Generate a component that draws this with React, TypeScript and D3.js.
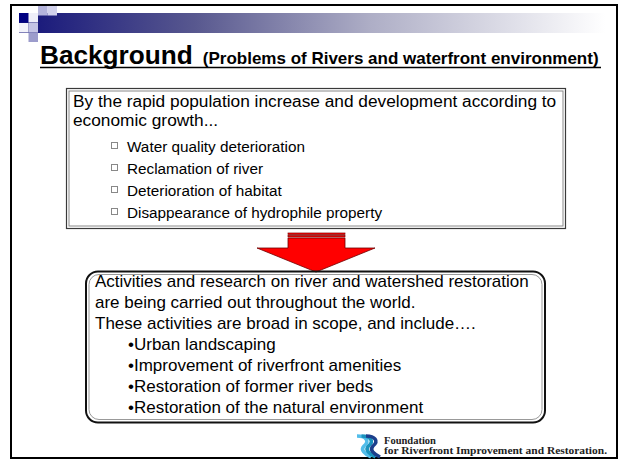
import React, { useEffect, useRef } from 'react';
import * as d3 from 'd3';

// slide text
const titleMain = 'Background';
const titleSub = '(Problems of Rivers and waterfront environment)';
const introLines = [
    'By the rapid population increase and development according to',
    'economic growth...',
];
const problemItems = [
    'Water quality deterioration',
    'Reclamation of river',
    'Deterioration of habitat',
    'Disappearance of hydrophile property',
];
const activityLines = [
    'Activities and research on river and watershed restoration',
    'are being carried out throughout the world.',
    'These activities are broad in scope, and include….',
];
const activityItems = [
    'Urban landscaping',
    'Improvement of riverfront amenities',
    'Restoration of former river beds',
    'Restoration of the natural environment',
];
const logoLines = ['Foundation', 'for Riverfront Improvement and Restoration.'];

const W = 621;
const H = 461;
const FONT = '"Liberation Sans", Arial, sans-serif';

const App = () => {
    const ref = useRef(null);

    useEffect(() => {
        const svg = d3.select(ref.current);
        svg.selectAll('*').remove();

        svg.append('rect').attr('width', W).attr('height', H).attr('fill', '#fff');

        // header gradient bar
        const grad = svg.append('defs').append('linearGradient')
            .attr('id', 'bar').attr('x1', 0).attr('x2', 1).attr('y1', 0).attr('y2', 0);
        [[0, '#14147a'], [0.3, '#58588f'], [0.6, '#aeaec6'], [1, '#ffffff']]
            .forEach(([o, c]) => grad.append('stop').attr('offset', o).attr('stop-color', c));
        svg.append('rect')
            .attr('x', 19).attr('y', 13).attr('width', 586).attr('height', 20)
            .attr('fill', 'url(#bar)');

        // little squares on the left of the bar
        const squares = [
            [19, 13, '#000080'], [28.5, 13, '#eeeef8'], [38, 6, '#b4b4dc'], [47.5, 6, '#d2d2ec'],
            [19, 23, '#f2f2fa'], [28.5, 23, '#c4c4e4'], [28.5, 32.5, '#9c9ccc'],
        ];
        svg.selectAll('.sq').data(squares).enter().append('rect')
            .attr('x', d => d[0]).attr('y', d => d[1])
            .attr('width', 9.5).attr('height', 9.5)
            .attr('fill', d => d[2]);

        // slide frame
        svg.append('rect')
            .attr('x', 11).attr('y', 5).attr('width', 606).attr('height', 453)
            .attr('fill', 'none').attr('stroke', '#000').attr('stroke-width', 2);

        // title
        const title = svg.append('text')
            .attr('x', 40).attr('y', 64)
            .attr('font-family', FONT).attr('font-weight', 'bold').attr('fill', '#000');
        title.append('tspan').attr('font-size', 26.2).text(titleMain);
        title.append('tspan').attr('font-size', 17).attr('dx', 10).text(titleSub);
        svg.append('line')
            .attr('x1', 40).attr('x2', 601).attr('y1', 67.5).attr('y2', 67.5)
            .attr('stroke', '#000').attr('stroke-width', 1.5);

        // upper box (double border)
        svg.append('rect')
            .attr('x', 66.5).attr('y', 88.5).attr('width', 499).attr('height', 140)
            .attr('fill', '#fff').attr('stroke', '#3a3a3a').attr('stroke-width', 1.2);
        svg.append('rect')
            .attr('x', 69).attr('y', 91).attr('width', 494).attr('height', 135)
            .attr('fill', 'none').attr('stroke', '#8a8a8a').attr('stroke-width', 1);

        const yIntro = d3.scaleLinear().domain([0, introLines.length - 1]).range([107, 126]);
        svg.selectAll('.intro').data(introLines).enter().append('text')
            .attr('x', 73).attr('y', (d, i) => yIntro(i))
            .attr('font-family', FONT).attr('font-size', 17.3)
            .text(d => d);

        const yProb = d3.scaleLinear().domain([0, problemItems.length - 1]).range([152, 218]);
        svg.selectAll('.probBox').data(problemItems).enter().append('rect')
            .attr('x', 111.5).attr('y', (d, i) => yProb(i) - 9.5)
            .attr('width', 6).attr('height', 6)
            .attr('fill', 'none').attr('stroke', '#888').attr('stroke-width', 1);
        svg.selectAll('.prob').data(problemItems).enter().append('text')
            .attr('x', 127).attr('y', (d, i) => yProb(i))
            .attr('font-family', FONT).attr('font-size', 15.3)
            .text(d => d);

        // red striped arrow
        const arrow = [
            [288, 238], [345, 238], [345, 248], [375, 248], [316, 272],
            [257, 248], [288, 248],
        ];
        svg.append('path')
            .attr('d', d3.line()(arrow) + 'Z')
            .attr('fill', '#ff0000').attr('stroke', '#700000').attr('stroke-width', 0.8);
        [233, 235.5].forEach(y => {
            svg.append('rect')
                .attr('x', 288).attr('y', y).attr('width', 57).attr('height', 1.5)
                .attr('fill', '#ff0000').attr('stroke', '#800000').attr('stroke-width', 0.7);
        });

        // lower box (rounded, double border)
        svg.append('rect')
            .attr('x', 86).attr('y', 271.5).attr('width', 459).attr('height', 151).attr('rx', 12)
            .attr('fill', 'none').attr('stroke', '#111').attr('stroke-width', 2);
        svg.append('rect')
            .attr('x', 89).attr('y', 274.5).attr('width', 453).attr('height', 145).attr('rx', 10)
            .attr('fill', 'none').attr('stroke', '#999').attr('stroke-width', 1);

        const allLines = activityLines.concat(activityItems.map(d => '•' + d));
        const yAct = d3.scaleLinear().domain([0, allLines.length - 1]).range([287, 413]);
        svg.selectAll('.act').data(allLines).enter().append('text')
            .attr('x', (d, i) => (i < activityLines.length ? 95 : 128))
            .attr('y', (d, i) => yAct(i))
            .attr('font-family', FONT).attr('font-size', 17)
            .text(d => d);

        // logo
        const icon = svg.append('g').attr('fill', 'none').attr('stroke-width', 3.5);
        [['#52bdea', 0], ['#1b93bd', 4.5], ['#1c3f8c', 9]].forEach(([c, dx]) => {
            icon.append('path')
                .attr('d', `M${357 + dx},436 C${366 + dx},436 ${370 + dx},441 ${364 + dx},446 C${360 + dx},450 ${365 + dx},454 ${371 + dx},457`)
                .attr('stroke', c);
        });
        svg.selectAll('.logo').data(logoLines).enter().append('text')
            .attr('x', 384).attr('y', (d, i) => 444 + i * 10)
            .attr('font-family', '"Liberation Serif", serif').attr('font-weight', 'bold')
            .attr('font-size', 10.5).attr('fill', '#222')
            .attr('textLength', (d, i) => (i === 1 ? 223 : null))
            .attr('lengthAdjust', 'spacingAndGlyphs')
            .text(d => d);
    }, []);

    return (
        <svg ref={ref} width={W} height={H}
            style={{ position: 'absolute', left: 0, top: 0 }} />
    );
};

export default App;
